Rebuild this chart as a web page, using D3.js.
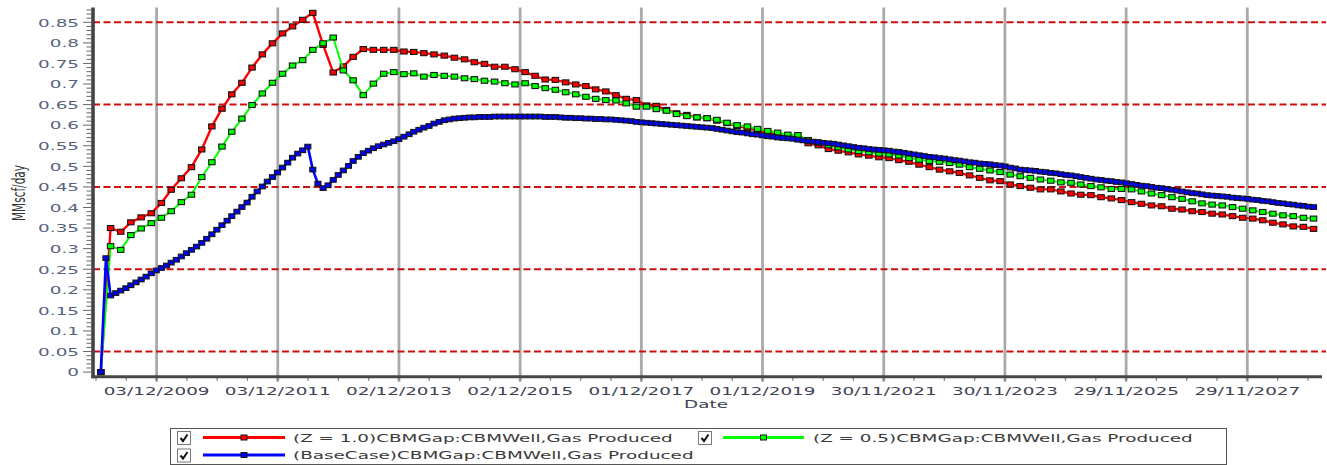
<!DOCTYPE html>
<html>
<head>
<meta charset="utf-8">
<script src="https://cdn.jsdelivr.net/npm/d3@7"></script>
<style>
  html, body { margin: 0; padding: 0; background: #fff; overflow: hidden; }
  svg { display: block; }
</style>
</head>
<body>
<svg id="chart" width="1327" height="465"></svg>
<script>
// Gas production forecasts for the CBM well, three cases (MMscf/day)
const seriesNames = [
  "(Z = 1.0)CBMGap:CBMWell,Gas Produced",
  "(Z = 0.5)CBMGap:CBMWell,Gas Produced",
  "(BaseCase)CBMGap:CBMWell,Gas Produced"
];
const firstDate = "01/01/2009";

// Z = 1.0 case, one value every two months
const z10Values = [
  0, 0.350, 0.341, 0.364, 0.376, 0.386, 0.411, 0.443, 0.471, 0.498,
  0.541, 0.597, 0.640, 0.675, 0.703, 0.740, 0.772, 0.799, 0.823, 0.840,
  0.856, 0.873, 0.795, 0.728, 0.743, 0.766, 0.785, 0.783, 0.783, 0.783,
  0.779, 0.778, 0.775, 0.772, 0.769, 0.764, 0.760, 0.753, 0.749, 0.742,
  0.742, 0.736, 0.729, 0.720, 0.711, 0.710, 0.704, 0.699, 0.695, 0.687,
  0.682, 0.673, 0.664, 0.661, 0.648, 0.647, 0.637, 0.629, 0.625, 0.619,
  0.617, 0.611, 0.605, 0.598, 0.593, 0.587, 0.582, 0.576, 0.572, 0.566,
  0.556, 0.551, 0.542, 0.538, 0.534, 0.529, 0.526, 0.522, 0.520, 0.515,
  0.511, 0.504, 0.498, 0.492, 0.488, 0.484, 0.478, 0.472, 0.466, 0.464,
  0.456, 0.452, 0.448, 0.444, 0.444, 0.439, 0.434, 0.431, 0.430, 0.425,
  0.422, 0.418, 0.413, 0.409, 0.405, 0.403, 0.397, 0.395, 0.391, 0.389,
  0.385, 0.383, 0.379, 0.375, 0.373, 0.369, 0.363, 0.359, 0.354, 0.353,
  0.348
];

// Z = 0.5 case, one value every two months
const z05Values = [
  0, 0.306, 0.297, 0.333, 0.349, 0.362, 0.375, 0.391, 0.413, 0.431,
  0.474, 0.510, 0.548, 0.584, 0.616, 0.649, 0.677, 0.703, 0.725, 0.745,
  0.758, 0.783, 0.799, 0.813, 0.733, 0.709, 0.673, 0.701, 0.725, 0.729,
  0.724, 0.726, 0.718, 0.722, 0.720, 0.718, 0.714, 0.712, 0.708, 0.706,
  0.702, 0.699, 0.702, 0.695, 0.690, 0.686, 0.680, 0.675, 0.669, 0.664,
  0.661, 0.660, 0.653, 0.645, 0.645, 0.639, 0.635, 0.627, 0.622, 0.619,
  0.617, 0.613, 0.606, 0.600, 0.597, 0.591, 0.586, 0.582, 0.577, 0.576,
  0.564, 0.557, 0.551, 0.546, 0.541, 0.537, 0.534, 0.531, 0.529, 0.526,
  0.520, 0.516, 0.513, 0.511, 0.508, 0.504, 0.498, 0.494, 0.490, 0.486,
  0.480, 0.476, 0.472, 0.468, 0.465, 0.461, 0.460, 0.456, 0.452, 0.449,
  0.445, 0.445, 0.444, 0.439, 0.434, 0.430, 0.425, 0.421, 0.415, 0.410,
  0.407, 0.405, 0.401, 0.397, 0.393, 0.389, 0.385, 0.381, 0.379, 0.375,
  0.373
];

// Base case, one value per month
const baseValues = [
  0, 0.277, 0.186, 0.192, 0.198, 0.204, 0.211, 0.218, 0.225, 0.232,
  0.240, 0.247, 0.253, 0.259, 0.266, 0.273, 0.281, 0.289, 0.297, 0.305,
  0.314, 0.324, 0.335, 0.346, 0.357, 0.368, 0.379, 0.390, 0.401, 0.412,
  0.426, 0.439, 0.451, 0.463, 0.474, 0.485, 0.497, 0.509, 0.521, 0.531,
  0.539, 0.548, 0.492, 0.458, 0.447, 0.454, 0.467, 0.479, 0.490, 0.501,
  0.513, 0.523, 0.532, 0.538, 0.544, 0.549, 0.553, 0.557, 0.561, 0.566,
  0.572, 0.578, 0.584, 0.589, 0.594, 0.598, 0.604, 0.608, 0.612, 0.614,
  0.616, 0.617, 0.618, 0.619, 0.619, 0.620, 0.620, 0.620, 0.621, 0.621,
  0.621, 0.621, 0.621, 0.621, 0.621, 0.621, 0.621, 0.621, 0.620, 0.620,
  0.620, 0.619, 0.618, 0.618, 0.617, 0.617, 0.616, 0.616, 0.615, 0.615,
  0.614, 0.614, 0.613, 0.612, 0.611, 0.610, 0.608, 0.607, 0.606, 0.605,
  0.604, 0.603, 0.602, 0.601, 0.600, 0.599, 0.598, 0.597, 0.596, 0.595,
  0.594, 0.593, 0.591, 0.589, 0.587, 0.585, 0.583, 0.582, 0.580, 0.578,
  0.577, 0.575, 0.573, 0.572, 0.570, 0.569, 0.568, 0.567, 0.565, 0.563,
  0.561, 0.560, 0.559, 0.557, 0.556, 0.555, 0.553, 0.551, 0.549, 0.547,
  0.545, 0.544, 0.542, 0.541, 0.540, 0.539, 0.538, 0.536, 0.535, 0.533,
  0.531, 0.529, 0.527, 0.525, 0.523, 0.522, 0.520, 0.519, 0.517, 0.515,
  0.514, 0.512, 0.510, 0.509, 0.507, 0.506, 0.505, 0.503, 0.502, 0.500,
  0.497, 0.495, 0.492, 0.491, 0.490, 0.489, 0.487, 0.486, 0.484, 0.483,
  0.481, 0.479, 0.478, 0.476, 0.474, 0.472, 0.470, 0.468, 0.467, 0.465,
  0.464, 0.462, 0.461, 0.459, 0.457, 0.455, 0.453, 0.452, 0.450, 0.448,
  0.447, 0.445, 0.443, 0.441, 0.439, 0.437, 0.435, 0.434, 0.432, 0.430,
  0.429, 0.428, 0.427, 0.426, 0.424, 0.423, 0.422, 0.421, 0.419, 0.418,
  0.416, 0.415, 0.413, 0.411, 0.410, 0.408, 0.407, 0.405, 0.404, 0.402,
  0.401
];

// Axis ticks
const yTickLabels = ["0", "0.05", "0.1", "0.15", "0.2", "0.25", "0.3", "0.35", "0.4",
  "0.45", "0.5", "0.55", "0.6", "0.65", "0.7", "0.75", "0.8", "0.85"];
const yGridValues = [0.05, 0.25, 0.45, 0.65, 0.85];
const dateTickLabels = ["03/12/2009", "03/12/2011", "02/12/2013", "02/12/2015", "01/12/2017",
  "01/12/2019", "30/11/2021", "30/11/2023", "29/11/2025", "29/11/2027"];

// ---------------------------------------------------------------
const svg = d3.select("#chart");
const parseDate = d3.utcParse("%d/%m/%Y");
const SX = 1.75;               // horizontal stretch of the text glyphs
const FONT = "'DejaVu Sans', Verdana, sans-serif";

const plotLeft = 93, plotRight = 1324, axisY = 376.7, plotTop = 7.5;

const x = d3.scaleUtc()
  .domain([parseDate("15/11/2008"), parseDate("05/03/2029")])
  .range([plotLeft, plotRight]);
const y = d3.scaleLinear().domain([0, 0.85]).range([372.1, 22.3]);

const start = parseDate(firstDate);
const series = [
  { name: seriesNames[0], color: "#ff0000", lw: 2.4, mw: 6.4, mh: 5, step: 2, values: z10Values },
  { name: seriesNames[1], color: "#00ff00", lw: 2.0, mw: 6.4, mh: 5, step: 2, values: z05Values },
  { name: seriesNames[2], color: "#0000ff", lw: 2.6, mw: 6.0, mh: 4.6, step: 1, values: baseValues }
];
series.forEach(s => {
  s.points = s.values.map((v, i) => ({ date: d3.utcMonth.offset(start, i * s.step), value: v }));
});

function stretchedText(g, px, py, str, anchor, extra) {
  return g.append("text")
    .attr("transform", `translate(${px},${py}) scale(${SX},1)` + (extra || ""))
    .attr("text-anchor", anchor)
    .style("font-family", FONT)
    .style("font-size", "10.5px")
    .text(str);
}

// Vertical grid at the major date ticks
const majorDates = dateTickLabels.map(parseDate);
const gGrid = svg.append("g");
gGrid.selectAll("line.vgrid").data(majorDates).join("line")
  .attr("class", "vgrid")
  .attr("x1", d => x(d)).attr("x2", d => x(d))
  .attr("y1", plotTop).attr("y2", axisY + 5)
  .attr("stroke", "#aaaaaa").attr("stroke-width", 2.8);

// Horizontal dashed reference lines
gGrid.selectAll("line.hgrid").data(yGridValues).join("line")
  .attr("class", "hgrid")
  .attr("x1", plotLeft).attr("x2", 1326)
  .attr("y1", d => y(d)).attr("y2", d => y(d))
  .attr("stroke", "#cc1010").attr("stroke-width", 2)
  .attr("stroke-dasharray", "7,3.5");

// X axis: line, quarter minor ticks, labels
const gX = svg.append("g");
const quarterMs = 182.5 * 864e5;
const minorDates = d3.range(-2, 40)
  .map(i => new Date(majorDates[0].getTime() + i * quarterMs))
  .filter(d => x(d) >= plotLeft && x(d) <= 1322);
gX.selectAll("line.xminor").data(minorDates).join("line")
  .attr("class", "xminor")
  .attr("x1", d => x(d)).attr("x2", d => x(d))
  .attr("y1", axisY).attr("y2", axisY + 4)
  .attr("stroke", "#777").attr("stroke-width", 1.2);
gX.append("line")
  .attr("x1", plotLeft - 1.5).attr("x2", 1322)
  .attr("y1", axisY).attr("y2", axisY)
  .attr("stroke", "#474747").attr("stroke-width", 3);
majorDates.forEach((d, i) => {
  stretchedText(gX, x(d), 394.5, dateTickLabels[i], "middle").attr("fill", "#3e4252");
});
stretchedText(gX, 706, 408, "Date", "middle").attr("fill", "#3e4252");

// Y axis: line, hundredth minor ticks, labels
const gY = svg.append("g");
const yMinor = d3.range(0, 89).map(i => i / 100);
gY.selectAll("line.yminor").data(yMinor).join("line")
  .attr("class", "yminor")
  .attr("x1", (d, i) => i % 5 === 0 ? 83 : 86.5).attr("x2", 91)
  .attr("y1", d => y(d)).attr("y2", d => y(d))
  .attr("stroke", "#666").attr("stroke-width", 1);
gY.append("line")
  .attr("x1", plotLeft).attr("x2", plotLeft)
  .attr("y1", plotTop).attr("y2", axisY + 1.5)
  .attr("stroke", "#444").attr("stroke-width", 3.6);
yTickLabels.forEach(lbl => {
  stretchedText(gY, 79, y(+lbl) + 4.3, lbl, "end").attr("fill", "#56637e");
});
svg.append("text")
  .attr("transform", `translate(25,193) scale(${SX},1) rotate(-90)`)
  .attr("text-anchor", "middle")
  .style("font-family", FONT).style("font-size", "10.5px")
  .attr("fill", "#333")
  .text("MMscf/day");

// Series lines and markers
const line = d3.line().x(d => x(d.date)).y(d => y(d.value));
const gSeries = svg.append("g");
series.forEach(s => {
  const g = gSeries.append("g");
  g.append("path").datum(s.points)
    .attr("d", line)
    .attr("fill", "none")
    .attr("stroke", s.color)
    .attr("stroke-width", s.lw)
    .attr("stroke-linejoin", "round");
  g.selectAll("rect").data(s.points).join("rect")
    .attr("x", d => x(d.date) - s.mw / 2)
    .attr("y", d => y(d.value) - s.mh / 2)
    .attr("width", s.mw).attr("height", s.mh)
    .attr("fill", s.color)
    .attr("stroke", "#151515").attr("stroke-width", 1.1);
});

// Legend
const gL = svg.append("g");
gL.append("rect")
  .attr("x", 170.5).attr("y", 428.5).attr("width", 1056).attr("height", 36)
  .attr("fill", "#fff").attr("stroke", "#555").attr("stroke-width", 1);
const legendSlots = [
  { box: 177, line0: 203, line1: 285, text: 293, cy: 437.5 },
  { box: 698, line0: 723, line1: 804, text: 813, cy: 437.5 },
  { box: 177, line0: 203, line1: 285, text: 293, cy: 455 }
];
series.forEach((s, i) => {
  const p = legendSlots[i];
  const by = p.cy - 6.5;
  gL.append("rect")
    .attr("x", p.box + 0.5).attr("y", by + 0.5).attr("width", 13).attr("height", 13)
    .attr("fill", "#fff").attr("stroke", "#7a7a7a").attr("stroke-width", 1);
  gL.append("path")
    .attr("d", `M${p.box + 3.5},${by + 7} L${p.box + 6},${by + 10} L${p.box + 10.5},${by + 3.5}`)
    .attr("fill", "none").attr("stroke", "#111").attr("stroke-width", 2);
  gL.append("line")
    .attr("x1", p.line0).attr("x2", p.line1).attr("y1", p.cy).attr("y2", p.cy)
    .attr("stroke", s.color).attr("stroke-width", 3);
  const mx = (p.line0 + p.line1) / 2;
  gL.append("rect")
    .attr("x", mx - 3).attr("y", p.cy - 2.5).attr("width", 6).attr("height", 5)
    .attr("fill", s.color).attr("stroke", "#151515").attr("stroke-width", 1);
  stretchedText(gL, p.text, p.cy + 4, s.name, "start").attr("fill", "#3a3a3a");
});
</script>
</body>
</html>
